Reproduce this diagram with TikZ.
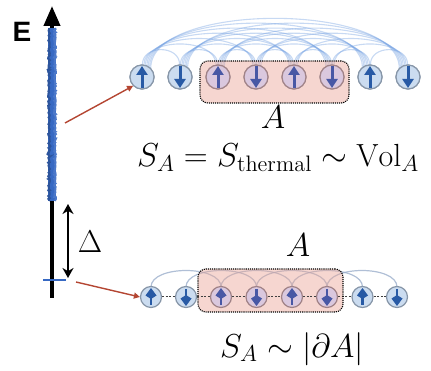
\documentclass[tikz,border=0pt]{standalone}
\usepackage{fontspec}
\newfontfamily\headfont{Liberation Sans}
\usetikzlibrary{arrows.meta,decorations.pathmorphing}
\definecolor{spinfill}{RGB}{203,220,240}
\definecolor{spinedge}{RGB}{135,150,168}
\definecolor{spinarrow}{RGB}{40,90,165}
\definecolor{inspinfill}{RGB}{218,200,222}
\definecolor{inspinedge}{RGB}{160,130,135}
\definecolor{inspinarrow}{RGB}{72,88,165}
\definecolor{boxpink}{RGB}{236,165,150}
\definecolor{arcblue}{RGB}{115,160,225}
\definecolor{arcgray}{RGB}{150,170,200}
\definecolor{bandblue}{RGB}{55,105,195}
\definecolor{pointer}{RGB}{180,70,50}
\newcommand{\bigmath}[1]{\scalebox{1.6}{\fontsize{20}{24}\selectfont$#1$}}
\begin{document}
\begin{tikzpicture}[x=1pt,y=-1pt,
  spin/.style={circle,draw=spinedge,fill=spinfill,line width=1.2pt,minimum size=#1,inner sep=0pt},
  inspin/.style={spin=#1,draw=inspinedge,fill=inspinfill},
  spinup/.style={draw=spinarrow,line width=3pt,-{Triangle[width=11pt,length=9pt]}},
  spinupsmall/.style={draw=spinarrow,line width=2.6pt,-{Kite[width=11pt,length=11pt,inset=3.5pt]}},
  regionfill/.style={rounded corners=8pt,fill=boxpink,fill opacity=0.45,draw=none,inner sep=0pt},
  regionedge/.style={rounded corners=8pt,draw=black,densely dotted,line width=1.1pt,inner sep=0pt},
  toparc/.style={draw=arcblue,line width=1.1pt,opacity=0.4},
  botarc/.style={draw=arcgray,line width=1.2pt,opacity=0.75},
  chainlink/.style={draw=black!75,line width=1pt,dash pattern=on 2pt off 1.6pt},
  pointerarrow/.style={draw=pointer,line width=1.4pt,-{Triangle[width=6pt,length=6pt]}},
  mathlbl/.style={inner sep=0pt,anchor=base}]
\useasboundingbox (0,0) rectangle (431,371);

% energy axis
\coordinate (axbot) at (52,298);
\coordinate (axtop) at (52,6);
\draw[line width=4pt,-{Triangle[width=16pt,length=20pt]}] (axbot) -- (axtop);
\pgfmathsetseed{7}
\coordinate (bandtop) at (52,28);
\coordinate (bandbot) at (52,201);
\draw[bandblue,line width=7.5pt] (bandtop) -- (bandbot);
\draw[bandblue!80!black,line width=2pt,decorate,decoration={random steps,segment length=1.2pt,amplitude=0.9pt}] ([xshift=-3pt]bandtop) -- ([xshift=-3pt]bandbot);
\draw[bandblue!90!white,line width=2pt,decorate,decoration={random steps,segment length=1.2pt,amplitude=0.9pt}] ([xshift=3pt]bandtop) -- ([xshift=3pt]bandbot);
\coordinate (tickL) at (43,280);
\coordinate (tickR) at (66,280);
\draw[bandblue,line width=2.4pt] (tickL) -- (tickR);
\node[font=\headfont\bfseries\fontsize{28}{30}\selectfont,inner sep=0pt] (E) at (22,32) {E};

% gap arrow
\coordinate (gapT) at (68,204);
\coordinate (gapB) at (68,278);
\draw[line width=2.4pt,{Stealth[width=11pt,length=10pt]}-{Stealth[width=11pt,length=10pt]}] (gapT) -- (gapB);
\node[inner sep=0pt,scale=0.95] (Delta) at (90,242) {\bigmath{\Delta}};

% top chain
\foreach \i/\x in {1/142,2/180,3/218,4/256,5/294,6/332,7/370,8/408}
  \coordinate (tc\i) at (\x,77);
\foreach \i in {1,...,8}
  \node[spin=24pt] (t\i) at (tc\i) {};
\foreach \i in {1,...,7}{
  \pgfmathtruncatemacro\ii{\i+1}
  \foreach \j in {\ii,...,8}{
    \pgfmathsetmacro\hh{(9+5.8*(\j-\i))/0.75}
    \pgfmathsetmacro\sa{95-7*(\j-\i)}
    \pgfmathsetmacro\ea{85+7*(\j-\i)}
    \draw[toparc] (t\i.\sa) .. controls +(0,-\hh) and +(0,-\hh) .. (t\j.\ea);
  }
}
\node[regionfill,minimum width=149pt,minimum height=42pt] (boxtopfill) at (274.5,82) {};
\foreach \i in {1,2,7,8}
  \node[spin=24pt] at (tc\i) {};
\foreach \i in {3,...,6}
  \node[inspin=24pt] at (tc\i) {};
\foreach \i in {1,7}
  \draw[spinup] ([yshift=-11pt]t\i.center) -- ([yshift=11pt]t\i.center);
\foreach \i in {2,8}
  \draw[spinup] ([yshift=11pt]t\i.center) -- ([yshift=-11pt]t\i.center);
\foreach \i in {3,5}
  \draw[spinup,draw=inspinarrow] ([yshift=-11pt]t\i.center) -- ([yshift=11pt]t\i.center);
\foreach \i in {4,6}
  \draw[spinup,draw=inspinarrow] ([yshift=11pt]t\i.center) -- ([yshift=-11pt]t\i.center);
\node[regionedge,minimum width=149pt,minimum height=42pt] (boxtop) at (274.5,82) {};
\node[mathlbl] (Atop) at (273,129) {\bigmath{A}};
\node[mathlbl] (Stop) at (278,167) {\bigmath{S_A = S_{\mathrm{thermal}} \sim \mathrm{Vol}_A}};

% bottom chain
\foreach \i/\x in {1/151,2/186,3/221,4/256.5,5/292,6/327,7/362.5,8/397}
  \coordinate (bc\i) at (\x,297);
\foreach \i in {1,...,6}{
  \pgfmathtruncatemacro\jj{\i+2}
  \draw[botarc] ([yshift=10pt]bc\i) .. controls +(0,-22) and +(0,-22) .. ([yshift=10pt]bc\jj);
}
\node[regionfill,minimum width=145pt,minimum height=43pt] (boxbotfill) at (270.5,290.5) {};
\foreach \i in {1,2,7,8}
  \node[spin=21pt] (b\i) at (bc\i) {};
\foreach \i in {3,...,6}
  \node[inspin=21pt] (b\i) at (bc\i) {};
\foreach \i in {1,...,7}{
  \pgfmathtruncatemacro\jj{\i+1}
  \draw[chainlink] (b\i.east) -- (b\jj.west);
}
\foreach \i in {1,7}
  \draw[spinupsmall] ([yshift=-8pt]b\i.center) -- ([yshift=9pt]b\i.center);
\foreach \i in {2,8}
  \draw[spinupsmall] ([yshift=8pt]b\i.center) -- ([yshift=-9pt]b\i.center);
\foreach \i in {3,5}
  \draw[spinupsmall,draw=inspinarrow] ([yshift=-8pt]b\i.center) -- ([yshift=9pt]b\i.center);
\foreach \i in {4,6}
  \draw[spinupsmall,draw=inspinarrow] ([yshift=8pt]b\i.center) -- ([yshift=-9pt]b\i.center);
\node[regionedge,minimum width=145pt,minimum height=43pt] (boxbot) at (270.5,290.5) {};
\node[mathlbl] (Abot) at (298,257) {\bigmath{A}};
\node[mathlbl] (Sbot) at (292,357) {\bigmath{S_A \sim |\partial A|}};

% pointers
\coordinate (p1s) at (65,123);
\coordinate (p2s) at (76,282);
\draw[pointerarrow] (p1s) -- (t1.south west);
\draw[pointerarrow] (p2s) -- (b1.west);
\end{tikzpicture}
\end{document}
